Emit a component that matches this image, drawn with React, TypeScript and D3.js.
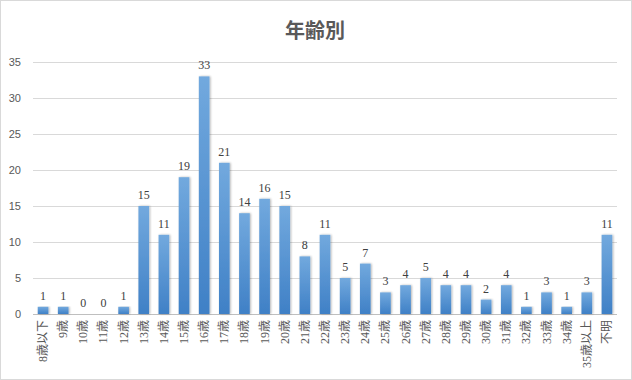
import React from "react";
import * as d3 from "d3";

const categories = ["8歳以下","9歳","10歳","11歳","12歳","13歳","14歳","15歳","16歳","17歳","18歳","19歳","20歳","21歳","22歳","23歳","24歳","25歳","26歳","27歳","28歳","29歳","30歳","31歳","32歳","33歳","34歳","35歳以上","不明"];
const values = [1,1,0,0,1,15,11,19,33,21,14,16,15,8,11,5,7,3,4,5,4,4,2,4,1,3,1,3,11];
const yTicks = [0,5,10,15,20,25,30,35];
const title = "年齢別";

const W = 632, H = 380;
const left = 33, right = 617, top = 62, bottom = 314;

export default function App() {
  const x = d3.scaleBand<string>().domain(categories).range([left, right]).paddingInner(0.47).paddingOuter(0.235);
  const y = d3.scaleLinear().domain([0, 35]).range([bottom, top]);
  return (
    <svg width={W} height={H} style={{ position: "absolute", left: 0, top: 0 }}>
      <defs>
        <linearGradient id="bg" x1="0" y1="0" x2="0" y2="1">
          <stop offset="0" stopColor="#72a9de" />
          <stop offset="1" stopColor="#3f80c6" />
        </linearGradient>
        <filter id="sh" x="-50%" y="-10%" width="200%" height="130%">
          <feGaussianBlur in="SourceAlpha" stdDeviation="1.2" />
          <feOffset dx="1" dy="0" result="b" />
          <feComponentTransfer><feFuncA type="linear" slope="0.3" /></feComponentTransfer>
          <feMerge><feMergeNode /><feMergeNode in="SourceGraphic" /></feMerge>
        </filter>
      </defs>
      <rect x={0.5} y={0.5} width={W - 1} height={H - 1} fill="#fff" stroke="#d9d9d9" />
      <text x={W / 2 - 1} y={38} textAnchor="middle" fontFamily="'Noto Sans CJK JP'" fontWeight="bold" fontSize={20} fill="#595959">{title}</text>
      {yTicks.map(t => (
        <g key={t}>
          <line x1={left} x2={right} y1={Math.round(y(t)) + 0.5} y2={Math.round(y(t)) + 0.5} stroke={t === 0 ? "#bfbfbf" : "#d9d9d9"} />
          <text x={21} y={y(t) + 4} textAnchor="end" fontFamily="'Liberation Sans', Arial" fontSize={11} fill="#595959">{t}</text>
        </g>
      ))}
      {categories.map((c, i) => {
        const v = values[i];
        const bx = x(c)!;
        const bw = x.bandwidth();
        const cx = bx + bw / 2;
        return (
          <g key={c}>
            {v > 0 && <rect x={bx} y={y(v)} width={bw} height={bottom - y(v)} fill="url(#bg)" filter="url(#sh)" />}
            <text x={cx} y={y(v) - 7} textAnchor="middle" fontFamily="'Liberation Serif', serif" fontSize={12} fill="#404040">{v}</text>
            <text transform={`translate(${cx + 4},${bottom + 6}) rotate(-90)`} textAnchor="end" fontFamily="'Liberation Serif', 'Noto Sans CJK JP'" fontSize={12} fill="#595959">{c}</text>
          </g>
        );
      })}
    </svg>
  );
}
